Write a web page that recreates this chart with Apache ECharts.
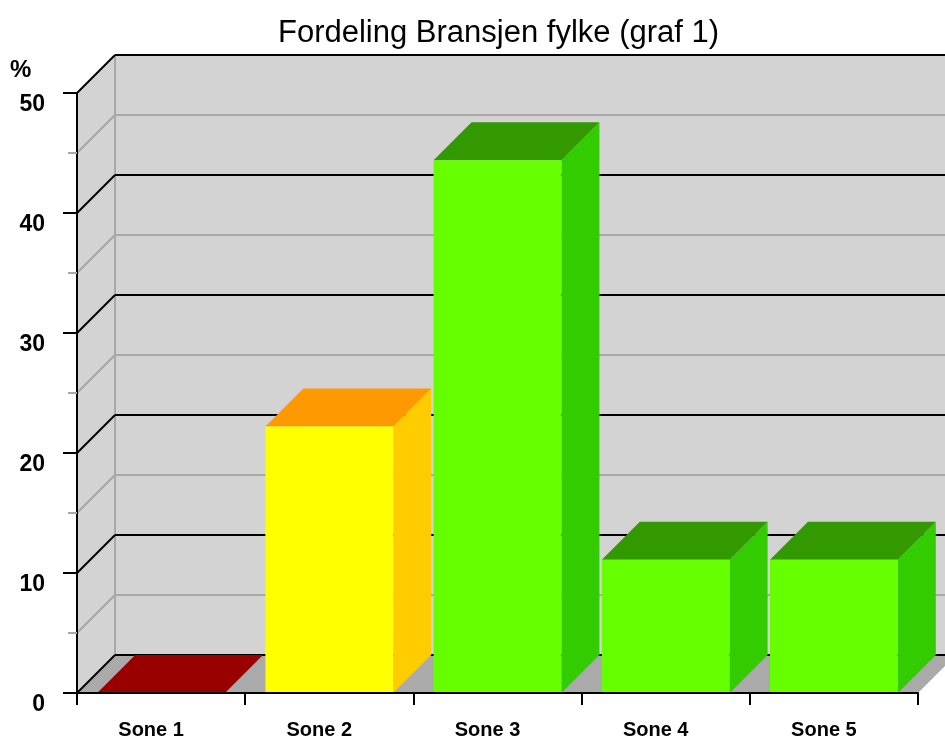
<!DOCTYPE html>
<html><head><meta charset="utf-8">
<script src="https://cdn.jsdelivr.net/npm/echarts@6/dist/echarts.min.js"></script>
<style>html,body{margin:0;padding:0;background:#fff}#c{width:945px;height:738px}</style>
</head><body><div id="c"></div>
<script>
const titleText = 'Fordeling Bransjen fylke (graf 1)';
const categories = ['Sone 1', 'Sone 2', 'Sone 3', 'Sone 4', 'Sone 5'];
const values = [0, 22.2, 44.4, 11.1, 11.1];
const yMin = 0, yMax = 50, yStep = 10;
const yUnit = '%';

const frontColors = ['#cc0000', '#ffff00', '#66ff00', '#66ff00', '#66ff00'];
const topColors = ['#990000', '#ff9900', '#339900', '#339900', '#339900'];
const sideColors = ['#cc0000', '#ffcc00', '#33cc00', '#33cc00', '#33cc00'];
const DEPTH = 38;
const FONT = "'Liberation Sans', Arial, sans-serif";

function renderBg(params, api) {
  const cs = params.coordSys;
  const x0 = cs.x, x1 = cs.x + cs.width;
  const yb = api.coord([0, yMin])[1], yt = api.coord([0, yMax])[1];
  const D = DEPTH;
  const ch = [];
  ch.push({type: 'polygon', shape: {points: [[x0 + D, yt - D], [x1 + D, yt - D], [x1 + D, yb - D], [x0 + D, yb - D]]}, style: {fill: '#d3d3d3'}});
  ch.push({type: 'polygon', shape: {points: [[x0, yt], [x0 + D, yt - D], [x0 + D, yb - D], [x0, yb]]}, style: {fill: '#d3d3d3'}});
  ch.push({type: 'polygon', shape: {points: [[x0, yb], [x0 + D, yb - D], [x1 + D, yb - D], [x1, yb]]}, style: {fill: '#aaaaaa'}});
  ch.push({type: 'line', shape: {x1: x0 + D, y1: yt - D, x2: x0 + D, y2: yb - D}, style: {stroke: '#a8a8a8', lineWidth: 2}});
  const minors = [], majors = [];
  for (let v = yMin; v <= yMax + 1e-9; v += yStep / 2) {
    const major = Math.abs(v / yStep - Math.round(v / yStep)) < 1e-9;
    (major ? majors : minors).push(v);
  }
  minors.concat(majors).forEach(v => {
    const y = api.coord([0, v])[1];
    const major = majors.indexOf(v) >= 0;
    const stroke = major ? '#000' : '#a8a8a8';
    ch.push({type: 'line', shape: {x1: x0, y1: y, x2: x0 + D, y2: y - D}, style: {stroke: stroke, lineWidth: 2}});
    ch.push({type: 'line', shape: {x1: x0 + D, y1: y - D, x2: x1 + D, y2: y - D}, style: {stroke: stroke, lineWidth: 2}});
  });
  return {type: 'group', children: ch};
}

function renderBar(params, api) {
  const i = api.value(0), v = api.value(1);
  const bw = api.size([1, 0])[0] * 0.76;
  const p0 = api.coord([i, 0]), p1 = api.coord([i, v]);
  const xl = p0[0] - bw / 2, xr = p0[0] + bw / 2, yb = p0[1], yt = p1[1];
  const D = DEPTH;
  const idx = params.dataIndex;
  return {type: 'group', children: [
    {type: 'polygon', shape: {points: [[xr, yt], [xr + D, yt - D], [xr + D, yb - D], [xr, yb]]}, style: {fill: sideColors[idx]}},
    {type: 'polygon', shape: {points: [[xl, yt], [xl + D, yt - D], [xr + D, yt - D], [xr, yt]]}, style: {fill: topColors[idx]}},
    {type: 'rect', shape: {x: xl, y: yt, width: bw, height: yb - yt}, style: {fill: frontColors[idx]}}
  ]};
}

const chart = echarts.init(document.getElementById('c'));
chart.setOption({
  animation: false,
  backgroundColor: '#fff',
  title: {text: titleText, left: 273, top: 13, textStyle: {fontFamily: FONT, fontSize: 31, fontWeight: 'normal', color: '#000'}},
  graphic: [{type: 'text', left: 10, top: 58, style: {text: yUnit, font: "bold 24px 'Liberation Sans', Arial", fill: '#000'}}],
  grid: {left: 77, right: 27, top: 93, bottom: 45, containLabel: false, outerBoundsMode: 'none'},
  xAxis: {
    type: 'category', data: categories, z: 5,
    axisLine: {lineStyle: {color: '#000', width: 2}},
    axisTick: {show: true, length: 12, lineStyle: {color: '#000', width: 2}},
    axisLabel: {fontFamily: FONT, fontSize: 20, fontWeight: 'bold', color: '#000', margin: 27, padding: [0, 20, 0, 0]},
    splitLine: {show: false}
  },
  yAxis: {
    type: 'value', min: yMin, max: yMax, interval: yStep, z: 5,
    axisLine: {show: true, lineStyle: {color: '#000', width: 2}},
    axisTick: {show: true, length: 14, lineStyle: {color: '#000', width: 2}},
    minorTick: {show: true, splitNumber: 2, length: 9, lineStyle: {color: '#a8a8a8', width: 2}},
    axisLabel: {fontFamily: FONT, fontSize: 23, fontWeight: 'bold', color: '#000', margin: 32, verticalAlign: 'top', lineHeight: 23},
    splitLine: {show: false}
  },
  series: [
    {type: 'custom', renderItem: renderBg, data: [[0, 0]], z: 1, silent: true, clip: false},
    {type: 'custom', renderItem: renderBar, data: values.map((v, i) => [i, v]), z: 2, clip: false}
  ]
});
</script></body></html>
